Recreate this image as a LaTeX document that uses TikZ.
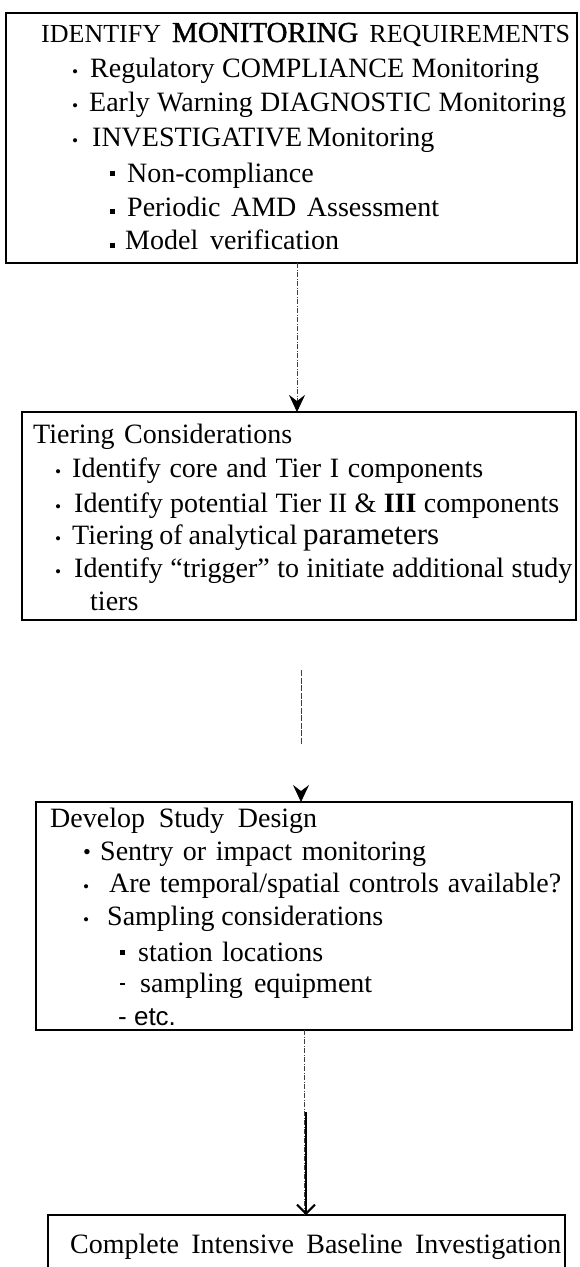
\documentclass[tikz,border=0pt]{standalone}
\usepackage{fontspec}
\usepackage{graphicx}
\setmainfont{Liberation Serif}
\newfontfamily\etcfont{Liberation Sans}
\newfontfamily\heavyfont[FakeBold=1.2]{Liberation Serif}
\usetikzlibrary{arrows.meta}

% bullet glyphs of the lists
\newcommand\smdot{\scalebox{0.62}{\textbullet}}
\newcommand\bigdot{\raisebox{1pt}{\scalebox{0.8}{\textbullet}}}
\newcommand\sqb[1]{\rule[#1pt]{5pt}{5pt}}
\newcommand\shortdash{\rule[7pt]{5pt}{2.5pt}}
% bullet followed by a gap of fixed width
\newcommand\bulbox[2]{\makebox[#1pt][l]{#2}}

\begin{document}
\begin{tikzpicture}[x=1pt,y=-1pt,
  box/.style={draw, line width=2.6pt, inner sep=0pt, outer sep=0pt, anchor=north west},
  txt/.style={anchor=base west, inner sep=0pt, font=\fontsize{28}{34}\selectfont},
  link/.style={draw=black!75, line width=0.8pt, dash pattern=on 5pt off 1.5pt on 1pt off 1.5pt},
  gaplink/.style={draw=black!75, line width=0.8pt,
    dash pattern=on 0pt off 50pt on 6pt off 1.5pt on 6pt off 1.5pt on 6pt off 1.5pt
      on 6pt off 1.5pt on 6pt off 1.5pt on 6pt off 1.5pt on 6pt off 1.5pt
      on 6pt off 1.5pt on 6pt off 1.5pt on 6pt off 200pt},
  vtip/.style={-{Stealth[length=17pt,width=16pt,inset=6pt,color=black]}},
  bartip/.style={-{Straight Barb[length=9pt,width=18pt,line width=2pt]}}
]
\useasboundingbox (0,0) rectangle (579,1267);
\fill[white] (0,0) rectangle (579,1267);
\clip (0,0) rectangle (579,1267);

% ---------- boxes ----------
\node[box, minimum width=571pt, minimum height=250pt] (b1) at (6,13) {};
\node[box, minimum width=554pt, minimum height=208pt] (b2) at (22,412) {};
\node[box, minimum width=536pt, minimum height=228pt] (b3) at (36,802) {};
\node[box, minimum width=517pt, minimum height=80pt] (b4) at (48,1215) {};

% ---------- monitoring requirements ----------
\node[txt] (r0) at (41,42) {\makebox[529pt][s]{\fontsize{26}{30}\selectfont IDENTIFY
  {\fontsize{29}{30}\heavyfont MONITORING} REQUIREMENTS}};
\node[txt] (r1) at (72,77) {\bulbox{18}{\smdot}\makebox[449pt][s]{Regulatory COMPLIANCE Monitoring}};
\node[txt] (r2) at (72,111) {\bulbox{17}{\smdot}\makebox[477pt][s]{Early Warning DIAGNOSTIC Monitoring}};
\node[txt] (r3) at (72,146) {\bulbox{20}{\smdot}\makebox[340pt][s]{INVESTIGATIVE Monitoring}};
\node[txt] (r4) at (110,182) {\bulbox{17}{\sqb{6}}\makebox[188pt][s]{Non-compliance}};
\node[txt] (r5) at (110,216) {\bulbox{17}{\sqb{2}}\makebox[312pt][s]{Periodic AMD Assessment}};
\node[txt] (r6) at (110,249) {\bulbox{15}{\sqb{1}}\makebox[214pt][s]{Model verification}};

% ---------- tiering ----------
\node[txt] (t0) at (33,443) {\makebox[259pt][s]{Tiering Considerations}};
\node[txt] (t1) at (55,477) {\bulbox{17}{\smdot}\makebox[411pt][s]{Identify core and Tier I components}};
\node[txt] (t2) at (55,512) {\bulbox{19}{\smdot}\makebox[485pt][s]{Identify potential Tier II \& \textbf{III} components}};
\node[txt] (t3) at (55,544) {\bulbox{17}{\smdot}\makebox[367pt][s]{Tiering of analytical {\fontsize{31}{34}\selectfont parameters}}};
\node[txt] (t4) at (55,577) {\bulbox{19}{\smdot}\makebox[498pt][s]{Identify “trigger” to initiate additional study}};
\node[txt] (t5) at (90,610) {tiers};

% ---------- study design ----------
\node[txt] (d0) at (50,827) {\makebox[267pt][s]{Develop Study Design}};
\node[txt] (d1) at (83,860) {\bulbox{17}{\bigdot}\makebox[326pt][s]{Sentry or impact monitoring}};
\node[txt] (d2) at (83,892) {\bulbox{26}{\smdot}\makebox[452pt][s]{Are temporal/spatial controls available?}};
\node[txt] (d3) at (83,925) {\bulbox{24}{\smdot}\makebox[276pt][s]{Sampling considerations}};
\node[txt] (d4) at (120,961) {\bulbox{18}{\sqb{6}}\makebox[185pt][s]{station locations}};
\node[txt] (d5) at (120,992) {\bulbox{20}{\shortdash}\makebox[232pt][s]{sampling equipment}};
\node[txt, font=\fontsize{26}{30}\etcfont] (d6) at (118,1025) {- etc.};

% ---------- baseline ----------
\node[txt] (e0) at (70,1253) {\makebox[491pt][s]{Complete Intensive Baseline Investigation}};

% ---------- connectors ----------
\coordinate (a1) at (297,0);
\coordinate (a2) at (301,0);
\coordinate (a3) at (304,0);
\coordinate (s3) at (306,1112);
\draw[link, vtip] (a1 |- b1.south) -- (a1 |- b2.north);
\draw[gaplink, vtip] (a2 |- b2.south) -- (a2 |- b3.north);
\draw[link] (a3 |- b3.south) -- (a3 |- b4.north);
\draw[line width=2pt, bartip] (s3) -- (s3 |- b4.north);
\end{tikzpicture}
\end{document}
